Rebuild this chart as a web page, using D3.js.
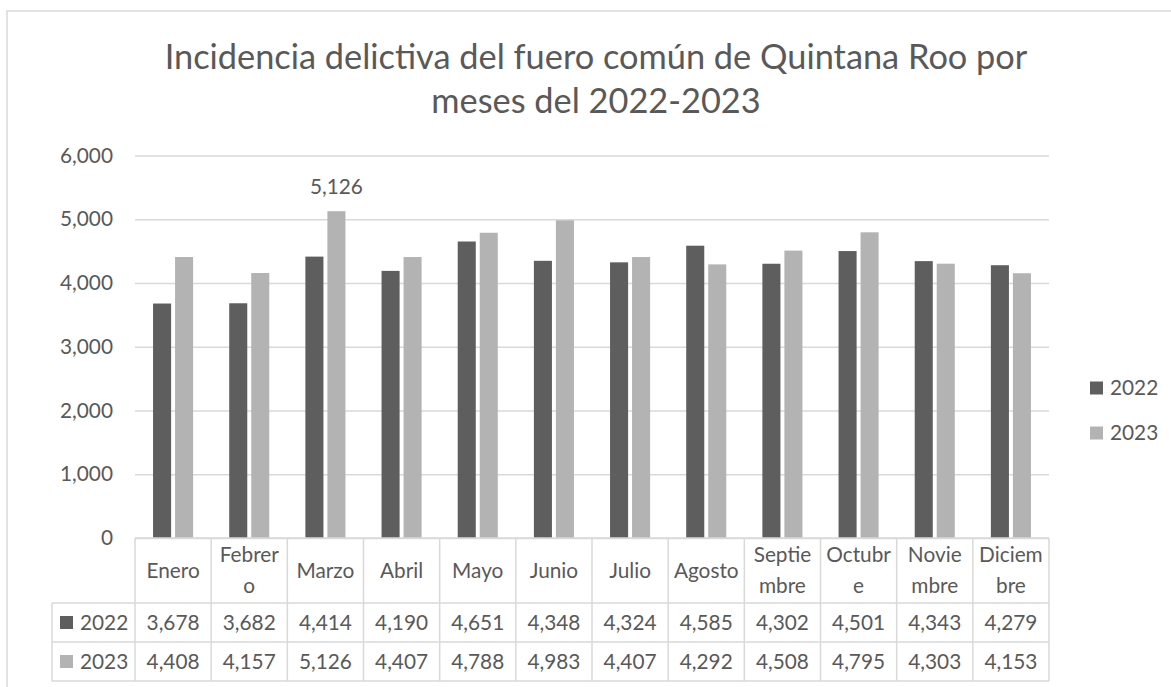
<!DOCTYPE html>
<html lang="es">
<head>
<meta charset="UTF-8">
<title>Incidencia delictiva Quintana Roo</title>
<script src="https://cdnjs.cloudflare.com/ajax/libs/d3/7.8.5/d3.min.js"></script>
<style>
  body { margin: 0; background: #fff; }
  text { font-family: Lato, "Open Sans", sans-serif; fill: #595959; }
</style>
</head>
<body>
<div id="chart"></div>
<script>
// data
var months = ["Enero", "Febrero", "Marzo", "Abril", "Mayo", "Junio", "Julio",
  "Agosto", "Septiembre", "Octubre", "Noviembre", "Diciembre"];
var years = ["2022", "2023"];
var values2022 = [3678, 3682, 4414, 4190, 4651, 4348, 4324, 4585, 4302, 4501, 4343, 4279];
var values2023 = [4408, 4157, 5126, 4407, 4788, 4983, 4407, 4292, 4508, 4795, 4303, 4153];
var yTicks = [0, 1000, 2000, 3000, 4000, 5000, 6000];
var titleLines = ["Incidencia delictiva del fuero común de Quintana Roo por", "meses del 2022-2023"];

var W = 1171, H = 687;
var plot = { left: 135, right: 1049, top: 155.5, bottom: 538 };
var colors = { "2022": "#5e5e5e", "2023": "#b3b3b3" };
var gridColor = "#d9d9d9";
var fmt = d3.format(",");

var series = years.map(function(yr, i) {
  return { year: yr, values: i === 0 ? values2022 : values2023 };
});

var svg = d3.select("#chart").append("svg")
  .attr("width", W).attr("height", H);

svg.append("rect").attr("width", W).attr("height", H).attr("fill", "#fff");
// chart area border (runs off the right and bottom of the picture)
svg.append("rect")
  .attr("x", 7).attr("y", 11).attr("width", W).attr("height", H)
  .attr("fill", "none").attr("stroke", gridColor).attr("stroke-width", 1.5);

// measure helper, used to size fonts like the picture
var probe = svg.append("text").attr("x", -1000).attr("y", -1000);
function textWidth(str, size) {
  probe.attr("font-size", size).text(str);
  return probe.node().getComputedTextLength();
}

var titleSize = 30 * 863 / textWidth(titleLines[0], 30);
var bodySize = 20 * 53 / textWidth("3,678", 20);

// title
svg.append("g").selectAll("text")
  .data(titleLines)
  .enter().append("text")
  .attr("x", 596)
  .attr("y", function(d, i) { return 69 + i * 44; })
  .attr("text-anchor", "middle")
  .attr("font-size", titleSize)
  .text(function(d) { return d; });

// scales
var x0 = d3.scaleBand().domain(months).range([plot.left, plot.right]);
var x1 = d3.scaleBand().domain(years).range([0, x0.bandwidth()])
  .paddingInner(0.18).paddingOuter(0.82);
var y = d3.scaleLinear().domain([0, 6000]).range([plot.bottom, plot.top]);

// gridlines + y labels
svg.append("g")
  .attr("transform", "translate(" + plot.left + ",0)")
  .call(d3.axisLeft(y).tickValues(yTicks).tickSize(-(plot.right - plot.left)).tickFormat(fmt))
  .call(function(g) { g.select(".domain").remove(); })
  .call(function(g) {
    g.selectAll(".tick line").attr("stroke", gridColor).attr("stroke-width", 1.5);
    g.selectAll(".tick text").attr("x", -22).attr("fill", "#595959")
      .attr("font-size", bodySize).attr("font-family", null);
  });

// bars
svg.append("g").selectAll("g")
  .data(series)
  .enter().append("g")
  .attr("fill", function(d) { return colors[d.year]; })
  .selectAll("rect")
  .data(function(d) { return d.values.map(function(v, i) { return { year: d.year, month: months[i], value: v }; }); })
  .enter().append("rect")
  .attr("x", function(d) { return x0(d.month) + x1(d.year); })
  .attr("y", function(d) { return y(d.value); })
  .attr("width", x1.bandwidth())
  .attr("height", function(d) { return y(0) - y(d.value); });

// single data label on the highest 2023 value
var maxIdx = d3.maxIndex(values2023);
svg.append("text")
  .attr("x", x0(months[maxIdx]) + x1("2023") + x1.bandwidth() / 2)
  .attr("y", y(values2023[maxIdx]) - 24)
  .attr("dy", "0.35em")
  .attr("text-anchor", "middle")
  .attr("font-size", bodySize)
  .text(fmt(values2023[maxIdx]));

// data table under the axis
var table = { headTop: plot.bottom, headBottom: 603, rowH: 39, keyLeft: 52 };
var rowTop = function(i) { return table.headBottom + i * table.rowH; };
var tableBottom = rowTop(series.length);
var tbl = svg.append("g").attr("stroke", gridColor).attr("stroke-width", 1.5);

// horizontal rules: axis line on top, then one under each row
tbl.append("line").attr("x1", plot.left).attr("x2", plot.right)
  .attr("y1", table.headTop).attr("y2", table.headTop);
tbl.selectAll(".h").data(d3.range(series.length + 1)).enter().append("line")
  .attr("x1", table.keyLeft).attr("x2", plot.right)
  .attr("y1", function(i) { return rowTop(i); })
  .attr("y2", function(i) { return rowTop(i); });
// vertical rules
var colEdges = months.map(function(m) { return x0(m); }).concat([plot.right]);
tbl.selectAll(".v").data(colEdges).enter().append("line")
  .attr("x1", function(d) { return d; }).attr("x2", function(d) { return d; })
  .attr("y1", table.headTop).attr("y2", tableBottom);
tbl.append("line").attr("x1", table.keyLeft).attr("x2", table.keyLeft)
  .attr("y1", table.headBottom).attr("y2", tableBottom);

// header: month names wrapped by characters like the spreadsheet does
function wrapChars(str, size, maxW) {
  var lines = [], cur = "";
  str.split("").forEach(function(ch) {
    if (cur && textWidth(cur + ch, size) > maxW) { lines.push(cur); cur = ch; }
    else cur += ch;
  });
  lines.push(cur);
  return lines;
}
var headMid = (table.headTop + table.headBottom) / 2;
var lineGap = 31;
months.forEach(function(m) {
  var lines = wrapChars(m, bodySize, x0.bandwidth() - 7);
  var t = svg.append("text")
    .attr("text-anchor", "middle")
    .attr("font-size", bodySize);
  lines.forEach(function(l, j) {
    t.append("tspan")
      .attr("x", x0(m) + x0.bandwidth() / 2)
      .attr("y", headMid + (j - (lines.length - 1) / 2) * lineGap)
      .attr("dy", "0.35em")
      .text(l);
  });
});

// value rows with legend keys
series.forEach(function(s, i) {
  var mid = rowTop(i) + table.rowH / 2;
  svg.append("rect").attr("x", 60).attr("y", mid - 6.5).attr("width", 13).attr("height", 13)
    .attr("fill", colors[s.year]);
  svg.append("text").attr("x", 80).attr("y", mid).attr("dy", "0.35em")
    .attr("font-size", bodySize).text(s.year);
  svg.append("g").selectAll("text")
    .data(s.values)
    .enter().append("text")
    .attr("x", function(d, j) { return x0(months[j]) + x0.bandwidth() / 2; })
    .attr("y", mid)
    .attr("dy", "0.35em")
    .attr("text-anchor", "middle")
    .attr("font-size", bodySize)
    .text(function(d) { return fmt(d); });
});

// legend on the right
var legend = svg.append("g").selectAll("g")
  .data(years)
  .enter().append("g")
  .attr("transform", function(d, i) { return "translate(1090," + (388 + i * 45) + ")"; });
legend.append("rect").attr("y", -6.5).attr("width", 13).attr("height", 13)
  .attr("fill", function(d) { return colors[d]; });
legend.append("text").attr("x", 20).attr("dy", "0.35em")
  .attr("font-size", bodySize).text(function(d) { return d; });

probe.remove();
</script>
</body>
</html>
